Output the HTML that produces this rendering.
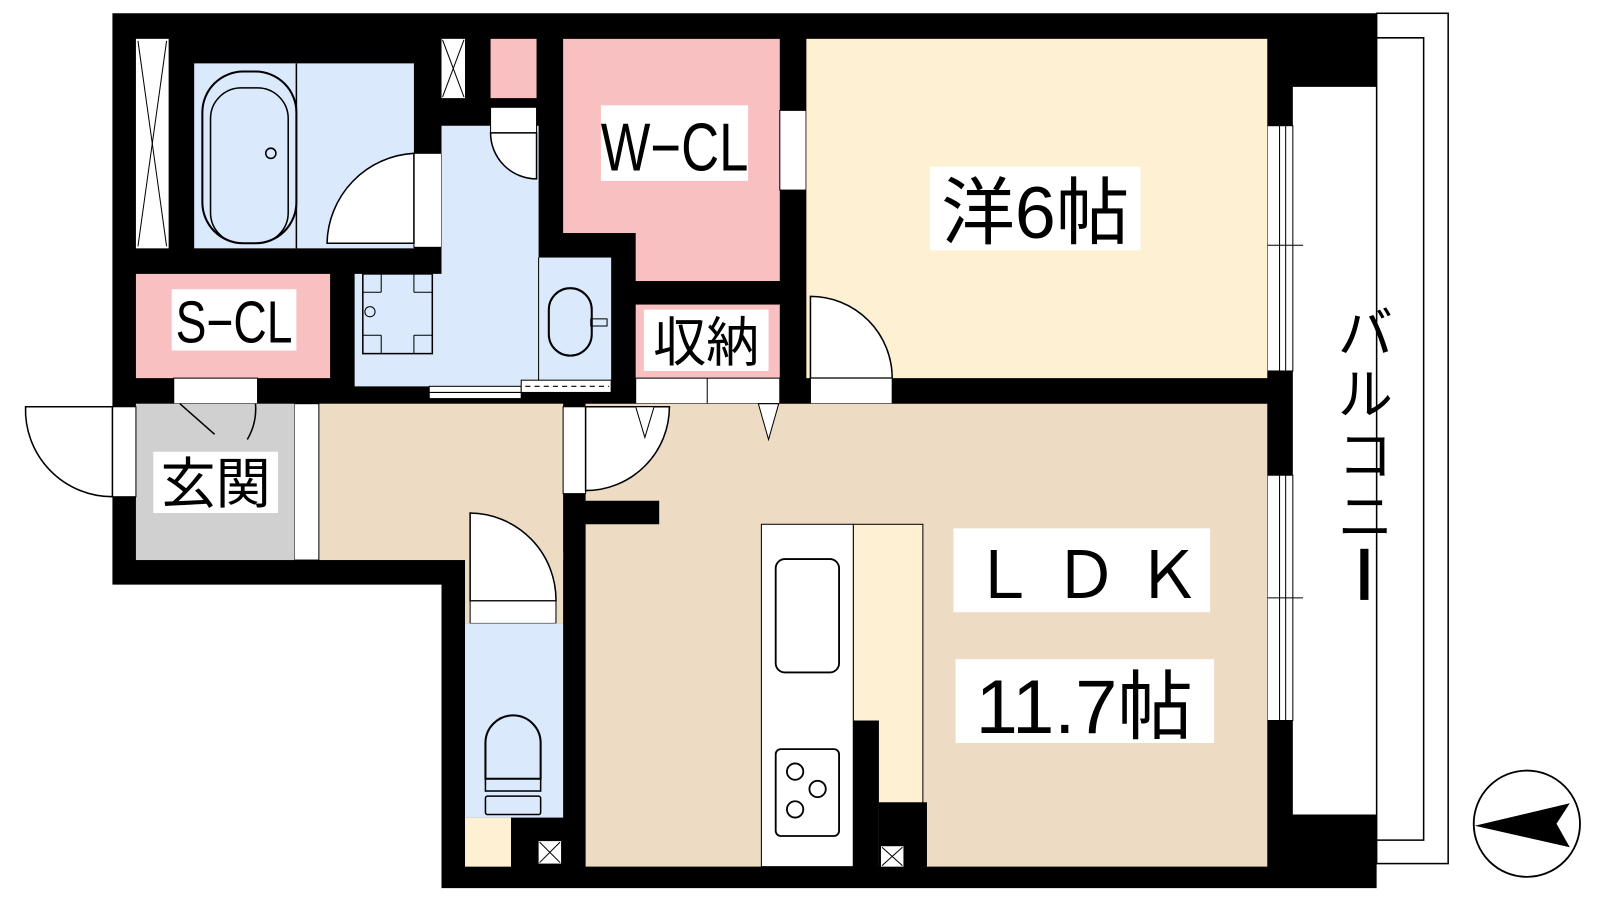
<!DOCTYPE html>
<html><head><meta charset="utf-8"><style>
html,body{margin:0;padding:0;background:#fff;width:1600px;height:900px;overflow:hidden}
svg{display:block}
text{font-family:"Liberation Sans","Noto Sans CJK JP",sans-serif;fill:#000}
</style></head><body>
<svg width="1600" height="900" viewBox="0 0 1600 900">
<g transform="scale(1.022)">
<!-- balcony frame -->
<rect x="1347" y="13" width="70" height="832" fill="none" stroke="#000" stroke-width="1.5"/>
<polyline points="1347,37 1393,37 1393,822 1347,822" fill="none" stroke="#000" stroke-width="1.5"/>
<!-- black building mass -->
<polygon points="110,13 1347,13 1347,85 1265,85 1265,797 1347,797 1347,869 432,869 432,572 110,572" fill="#000"/>
<!-- window openings right -->
<rect x="1240" y="123" width="25" height="240" fill="#fff" stroke="#000"/>
<line x1="1252" y1="123" x2="1252" y2="363" stroke="#000"/><line x1="1258" y1="123" x2="1258" y2="363" stroke="#000"/>
<line x1="1228" y1="240" x2="1275" y2="240" stroke="#000"/>
<rect x="1240" y="465" width="25" height="240" fill="#fff" stroke="#000"/>
<line x1="1252" y1="465" x2="1252" y2="705" stroke="#000"/><line x1="1258" y1="465" x2="1258" y2="705" stroke="#000"/>
<line x1="1228" y1="585" x2="1275" y2="585" stroke="#000"/>
<!-- left X closet -->
<rect x="133" y="38" width="32" height="205" fill="#fff"/>
<line x1="135" y1="40" x2="163" y2="241" stroke="#000"/><line x1="163" y1="40" x2="135" y2="241" stroke="#000"/>
<!-- bath -->
<rect x="190" y="62" width="215" height="181" fill="#dae9fb"/>
<rect x="198" y="70" width="92" height="168" rx="40" fill="none" stroke="#000" stroke-width="2"/>
<rect x="206" y="86" width="76" height="152" rx="30" fill="none" stroke="#000" stroke-width="1.5"/>
<circle cx="265" cy="150" r="5" fill="none" stroke="#000" stroke-width="1.5"/>
<line x1="290" y1="62" x2="290" y2="243" stroke="#000" stroke-width="1.5"/>
<rect x="405" y="150" width="27" height="92" fill="#fff" stroke="#000"/>
<path d="M405,150 A90,90 0 0 0 320,238 L405,238 Z" fill="#fff" stroke="#000" stroke-width="1.5"/>
<!-- small X and pink -->
<rect x="432" y="38" width="23" height="58" fill="#fff"/>
<line x1="433" y1="39" x2="454" y2="95" stroke="#000"/><line x1="454" y1="39" x2="433" y2="95" stroke="#000"/>
<rect x="480" y="38" width="45" height="58" fill="#f8c0c0"/>
<!-- washroom -->
<polygon points="432,123 527,123 527,378 347,378 347,268 432,268" fill="#dae9fb"/>
<rect x="527" y="252" width="71" height="126" fill="#dae9fb"/>
<line x1="527" y1="252" x2="527" y2="378" stroke="#000"/>
<rect x="480" y="105" width="45" height="25" fill="#fff" stroke="#000"/>
<path d="M480,130 A45,45 0 0 0 525,175 L525,130 Z" fill="#fff" stroke="#000" stroke-width="1.5"/>
<rect x="537" y="282" width="42" height="66" rx="21" fill="none" stroke="#000" stroke-width="2"/>
<rect x="578" y="312" width="16" height="7" fill="none" stroke="#000"/>
<rect x="355" y="268" width="68" height="78" fill="none" stroke="#000" stroke-width="1.5"/>
<circle cx="362" cy="305" r="5" fill="none" stroke="#000"/>
<line x1="373" y1="268" x2="373" y2="286" stroke="#000"/><line x1="355" y1="286" x2="373" y2="286" stroke="#000"/>
<line x1="405" y1="268" x2="405" y2="286" stroke="#000"/><line x1="405" y1="286" x2="423" y2="286" stroke="#000"/>
<line x1="373" y1="328" x2="373" y2="346" stroke="#000"/><line x1="355" y1="328" x2="373" y2="328" stroke="#000"/>
<line x1="405" y1="328" x2="405" y2="346" stroke="#000"/><line x1="405" y1="328" x2="423" y2="328" stroke="#000"/>
<!-- sliding door bottom of washroom -->
<rect x="420" y="378" width="90" height="12" fill="#fff" stroke="#000"/>
<line x1="420" y1="384" x2="510" y2="384" stroke="#000"/>
<rect x="510" y="372" width="88" height="12" fill="#fff" stroke="#000"/>
<line x1="514" y1="378" x2="596" y2="378" stroke="#000" stroke-dasharray="5,4"/>
<!-- S-CL -->
<rect x="133" y="268" width="190" height="102" fill="#f8c0c0"/>
<rect x="170" y="370" width="82" height="25" fill="#fff" stroke="#000"/>
<!-- W-CL -->
<polygon points="551,38 763,38 763,275 622,275 622,228 551,228" fill="#f8c0c0"/>
<rect x="763" y="108" width="26" height="78" fill="#fff" stroke="#000"/>
<path d="M789,108 L866,108 A78,78 0 0 1 789,186 Z" fill="#fff" stroke="#000" stroke-width="1.5"/>
<!-- 収納 -->
<rect x="622" y="298" width="141" height="72" fill="#f8c0c0"/>
<rect x="622" y="370" width="141" height="25" fill="#fff" stroke="#000"/>
<line x1="692" y1="370" x2="692" y2="395" stroke="#000"/>
<!-- 洋6帖 -->
<rect x="789" y="38" width="451" height="332" fill="#fdf0d3"/>
<path d="M793,290 A80,80 0 0 1 873,370 L793,370 Z" fill="#fff" stroke="#000" stroke-width="1.5"/>
<rect x="793" y="370" width="80" height="25" fill="#fff" stroke="#000"/>
<!-- LDK / hall -->
<polygon points="573,395 1240,395 1240,848 573,848 573,513 645,513 645,490 573,490" fill="#eddcc3"/>
<rect x="312" y="395" width="239" height="153" fill="#eddcc3"/>
<rect x="455" y="540" width="96" height="70" fill="#eddcc3"/>
<!-- door LDK -->
<rect x="551" y="398" width="22" height="85" fill="#fff" stroke="#000"/>
<path d="M573,398 L655,398 A82,82 0 0 1 573,480 Z" fill="#fff" stroke="#000" stroke-width="1.5"/>
<polygon points="622,398 640,398 631,428" fill="#fff" stroke="#000"/>
<polygon points="742,395 762,395 752,430" fill="#fff" stroke="#000"/>
<rect x="288" y="395" width="24" height="153" fill="#fff" stroke="#000"/>
<!-- entry -->
<rect x="133" y="395" width="155" height="153" fill="#d0d0d0"/>
<rect x="110" y="398" width="23" height="88" fill="#fff" stroke="#000"/>
<path d="M110,398 L25,398 A85,85 0 0 0 110,486 Z" fill="#fff" stroke="#000" stroke-width="1.5"/>
<line x1="176" y1="395" x2="210" y2="425" stroke="#000" stroke-width="1.5"/>
<path d="M250,395 A60,60 0 0 1 242,430" fill="none" stroke="#000" stroke-width="1.5"/>
<!-- toilet -->
<path d="M460,502 A85,85 0 0 1 544,588 L460,588 Z" fill="#fff" stroke="#000" stroke-width="1.5"/>
<rect x="460" y="588" width="84" height="22" fill="#fff" stroke="#000"/>
<rect x="455" y="610" width="96" height="190" fill="#dae9fb"/>
<path d="M475,762 L475,727 A27,27 0 0 1 529,727 L529,762 Z" fill="none" stroke="#000" stroke-width="2"/>
<rect x="475" y="762" width="54" height="12" fill="none" stroke="#000" stroke-width="1.5"/>
<rect x="475" y="779" width="54" height="18" rx="2" fill="none" stroke="#000" stroke-width="1.5"/>
<rect x="455" y="800" width="45" height="48" fill="#fdf0d3"/>
<rect x="527" y="823" width="22" height="22" fill="#fff"/>
<line x1="528" y1="824" x2="548" y2="844" stroke="#000"/><line x1="548" y1="824" x2="528" y2="844" stroke="#000"/>
<!-- kitchen -->
<rect x="745" y="513" width="90" height="335" fill="#fff" stroke="#000"/>
<rect x="759" y="547" width="62" height="111" rx="9" fill="none" stroke="#000" stroke-width="1.8"/>
<rect x="759" y="733" width="62" height="85" rx="5" fill="none" stroke="#000" stroke-width="1.8"/>
<circle cx="778" cy="755" r="8" fill="none" stroke="#000" stroke-width="1.8"/>
<circle cx="800" cy="772" r="8" fill="none" stroke="#000" stroke-width="1.8"/>
<circle cx="778" cy="792" r="8" fill="none" stroke="#000" stroke-width="1.8"/>
<rect x="835" y="513" width="68" height="335" fill="#fdf0d3" stroke="#000"/>
<rect x="835" y="705" width="25" height="143" fill="#000"/>
<rect x="860" y="785" width="47" height="63" fill="#000"/>
<rect x="862" y="828" width="22" height="20" fill="#fff"/>
<line x1="863" y1="829" x2="883" y2="847" stroke="#000"/><line x1="883" y1="829" x2="863" y2="847" stroke="#000"/>
<!-- compass -->
<circle cx="1494" cy="806" r="52" fill="#fff" stroke="#000" stroke-width="1.8"/>
<polygon points="1443,808 1536,786 1523,806 1536,829" fill="#000"/>
<!-- labels -->
<rect x="588" y="103" width="144" height="74" fill="#fff"/>
<text x="660" y="167" font-size="66" text-anchor="middle" transform="translate(660,0) scale(0.78,1) translate(-660,0)">W−CL</text>
<rect x="910" y="163" width="206" height="82" fill="#fff"/>
<text x="1013" y="233" font-size="72" text-anchor="middle">洋6帖</text>
<rect x="168" y="283" width="122" height="60" fill="#fff"/>
<text x="229" y="335" font-size="58" text-anchor="middle" transform="translate(229,0) scale(0.78,1) translate(-229,0)">S−CL</text>
<rect x="630" y="303" width="122" height="60" fill="#fff"/>
<text x="691" y="353" font-size="52" text-anchor="middle">収納</text>
<rect x="150" y="442" width="122" height="60" fill="#fff"/>
<text x="211" y="492" font-size="54" text-anchor="middle">玄関</text>
<rect x="933" y="517" width="251" height="82" fill="#fff"/>
<text x="950" y="585" font-size="64" textLength="225" lengthAdjust="spacing">ＬＤＫ</text>
<rect x="935" y="645" width="253" height="82" fill="#fff"/>
<text x="1061" y="717" font-size="74" text-anchor="middle">11.7帖</text>
<text x="1336" y="345" font-size="54" text-anchor="middle">バ</text>
<text x="1336" y="405" font-size="54" text-anchor="middle">ル</text>
<text x="1336" y="465" font-size="54" text-anchor="middle">コ</text>
<text x="1336" y="525" font-size="54" text-anchor="middle">ニ</text>
<rect x="1331" y="537" width="8" height="50" fill="#000"/>
</g>
</svg>
</body></html>
